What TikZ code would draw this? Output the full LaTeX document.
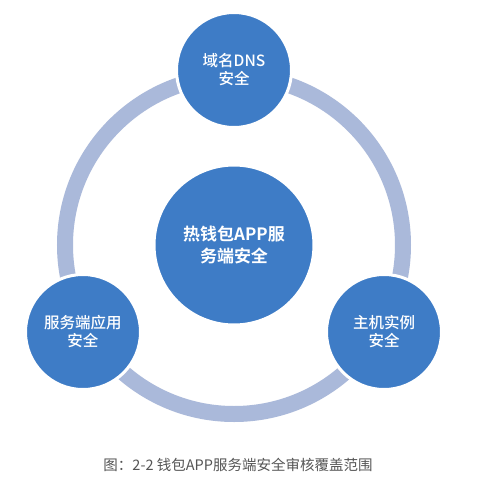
\documentclass[tikz,border=0pt]{standalone}
\usepackage{fontspec}
\newfontfamily\cjk{Noto Sans CJK SC}
\newfontfamily\cjkm{Noto Sans CJK SC Medium}
\newfontfamily\cjkb{Noto Sans CJK SC Bold}
\definecolor{ballblue}{HTML}{3E7CC6}
\definecolor{ringblue}{HTML}{AAB9DA}
\definecolor{captiongray}{HTML}{555555}
\begin{document}
\begin{tikzpicture}[x=1pt,y=-1pt,
  ball/.style={circle,fill=ballblue,draw=white,line width=3pt,text=white,align=center,inner sep=0pt},
  small/.style={ball,minimum size=115pt,font=\cjkm\fontsize{15.5}{18}\selectfont},
  big/.style={ball,minimum size=160pt,font=\cjkb\fontsize{17}{22}\selectfont}]
\useasboundingbox (0,0) rectangle (481,491);
\fill[white] (0,0) rectangle (481,491);
\coordinate (c) at (234,245);
\draw[ringblue,line width=16pt] (c) circle[radius=169];
\node[big] (center) at (c) {热钱包APP服\\务端安全};
\node[small] (top) at (234,70) {域名DNS\\安全};
\node[small] (left) at (83,332) {服务端应用\\安全};
\node[small] (right) at (384,332) {主机实例\\安全};
\node[font=\cjk\fontsize{14.5}{16}\selectfont,text=captiongray] (cap) at (238,465) {图：2-2 钱包APP服务端安全审核覆盖范围};
\end{tikzpicture}
\end{document}
